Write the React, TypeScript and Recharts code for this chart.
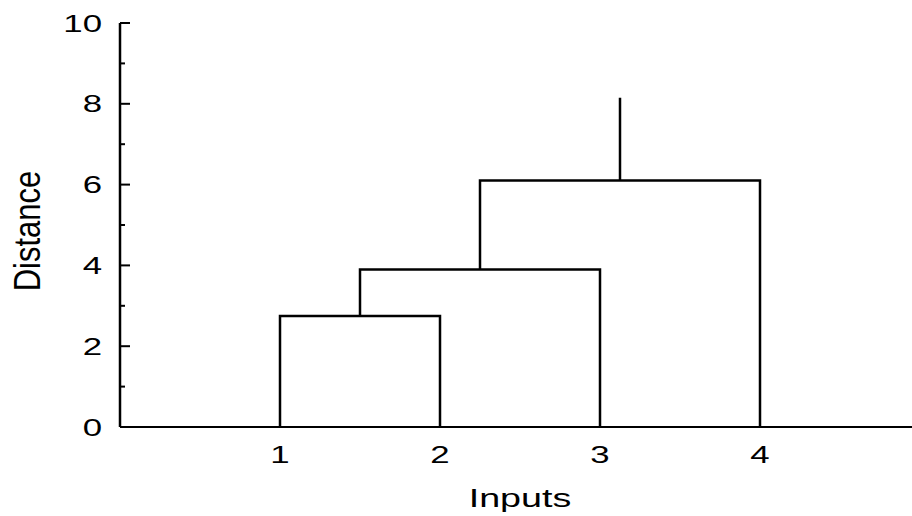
import { LineChart, Line, XAxis, YAxis, Label } from 'recharts';

// leaves (inputs) on the x axis
const leafPositions = [1, 2, 3, 4];
const leafLabels = ['1', '2', '3', '4'];

// each merge joins two nodes (0-3 = leaves, 4+ = earlier merges)
const mergeChildren = [
  [0, 1],
  [4, 2],
  [5, 3],
];
const mergeHeights = [2.75, 3.9, 6.1];
const rootTop = 8.15;

const yTicks = [0, 1, 2, 3, 4, 5, 6, 7, 8, 9, 10];
const xTicks = [1, 2, 3, 4];

// build node positions and the U shaped links
const nodes: { x: number; y: number }[] = leafPositions.map((x) => ({ x, y: 0 }));
const links: { x: number; y: number }[][] = [];
mergeChildren.forEach(([a, b], i) => {
  const h = mergeHeights[i];
  const left = nodes[a];
  const right = nodes[b];
  links.push([
    { x: left.x, y: left.y },
    { x: left.x, y: h },
    { x: right.x, y: h },
    { x: right.x, y: right.y },
  ]);
  nodes.push({ x: (left.x + right.x) / 2, y: h });
});
const root = nodes[nodes.length - 1];
links.push([
  { x: root.x, y: root.y },
  { x: root.x, y: rootTop },
]);

const FONT = '"Liberation Sans", Arial, sans-serif';
const STRETCH = 1.45;

const YTick = (props: any) => {
  const { x, y, payload } = props;
  const major = payload.value % 2 === 0;
  return (
    <g>
      <line x1={x} y1={y} x2={x + (major ? 10 : 5)} y2={y} stroke="#000" strokeWidth={2} />
      {major && (
        <text
          transform={`translate(${x - 18},${y + 8.5}) scale(${STRETCH},1)`}
          textAnchor="end"
          fontFamily={FONT}
          fontSize={24}
          fill="#000"
        >
          {payload.value}
        </text>
      )}
    </g>
  );
};

const XTick = (props: any) => {
  const { x, y, payload } = props;
  const idx = leafPositions.indexOf(payload.value);
  return (
    <text
      transform={`translate(${x},${y + 36}) scale(${STRETCH},1)`}
      textAnchor="middle"
      fontFamily={FONT}
      fontSize={24}
      fill="#000"
    >
      {idx >= 0 ? leafLabels[idx] : payload.value}
    </text>
  );
};

const XTitle = (props: any) => {
  const { viewBox } = props;
  const cx = viewBox.x + viewBox.width / 2 + 4;
  return (
    <text
      transform={`translate(${cx},${viewBox.y + 80}) scale(${STRETCH},1)`}
      textAnchor="middle"
      fontFamily={FONT}
      fontSize={26}
      fill="#000"
    >
      Inputs
    </text>
  );
};

const YTitle = (props: any) => {
  const { viewBox } = props;
  const cy = viewBox.y + viewBox.height / 2 + 6;
  return (
    <text
      transform={`translate(${viewBox.x - 20},${cy}) scale(1.22,1) rotate(-90)`}
      textAnchor="middle"
      fontFamily={FONT}
      fontSize={31}
      fill="#000"
    >
      Distance
    </text>
  );
};

export default function App() {
  return (
    <div>
      <style>{`body{margin:0;overflow:hidden;background:#fff}`}</style>
      <LineChart width={912} height={516} margin={{ top: 23, right: 0, bottom: 59, left: 60 }}>
        <XAxis
          dataKey="x"
          type="number"
          domain={[0, 4.95]}
          ticks={xTicks}
          tickLine={false}
          tickSize={0}
          tickMargin={0}
          tick={<XTick />}
          axisLine={{ stroke: '#000', strokeWidth: 2 }}
          allowDuplicatedCategory={false}
        >
          <Label content={<XTitle />} />
        </XAxis>
        <YAxis
          type="number"
          domain={[0, 10]}
          ticks={yTicks}
          interval={0}
          width={60}
          tickLine={false}
          tickSize={0}
          tickMargin={0}
          tick={<YTick />}
          axisLine={{ stroke: '#000', strokeWidth: 2.5 }}
        >
          <Label content={<YTitle />} />
        </YAxis>
        {links.map((link, i) => (
          <Line
            key={i}
            data={link}
            dataKey="y"
            type="linear"
            stroke="#000"
            strokeWidth={2.5}
            dot={false}
            activeDot={false}
            isAnimationActive={false}
            strokeLinejoin="miter"
          />
        ))}
      </LineChart>
    </div>
  );
}
